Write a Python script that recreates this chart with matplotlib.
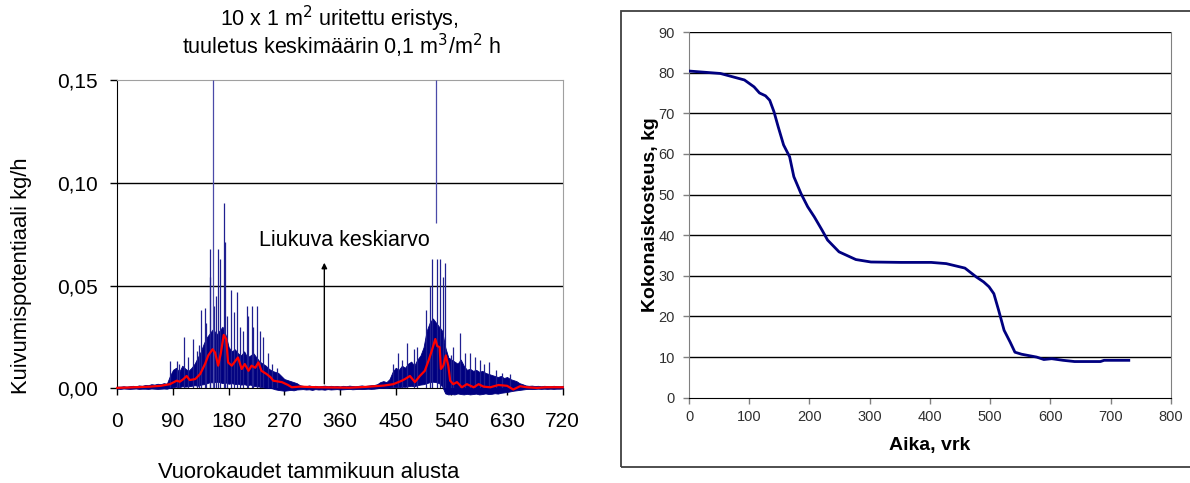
import matplotlib
matplotlib.use("Agg")
import matplotlib.pyplot as plt
import numpy as np
from matplotlib.patches import Rectangle

plt.rcParams["font.family"] = ["Liberation Sans", "DejaVu Sans"]

# ---- left chart: drying potential (kg/h) ----
BAND_DAYS = np.arange(0, 725, 5)
BAND_HI = [
    0.0008, 0.0008, 0.0010, 0.0008, 0.0010, 0.0012, 0.0010, 0.0014, 0.0012,
    0.0016, 0.0015, 0.0020, 0.0018, 0.0022, 0.0020, 0.0025, 0.0022,
    0.0060, 0.0090, 0.0100, 0.0080, 0.0110, 0.0095, 0.0085, 0.0100, 0.0120,
    0.0150, 0.0180, 0.0220, 0.0250, 0.0270, 0.0290, 0.0260, 0.0280, 0.0300,
    0.0260, 0.0200, 0.0180, 0.0190, 0.0170, 0.0160, 0.0180, 0.0150, 0.0160,
    0.0170, 0.0150, 0.0130, 0.0120, 0.0110, 0.0095, 0.0085, 0.0080, 0.0075,
    0.0060, 0.0045, 0.0040, 0.0035, 0.0030, 0.0025, 0.0015,
    0.0012, 0.0010, 0.0014, 0.0010, 0.0012, 0.0009, 0.0011, 0.0013, 0.0010,
    0.0012, 0.0010, 0.0011, 0.0009, 0.0012, 0.0010, 0.0013, 0.0011, 0.0010,
    0.0012, 0.0014, 0.0011, 0.0013, 0.0015, 0.0016,
    0.0020, 0.0030, 0.0035, 0.0030, 0.0045, 0.0080, 0.0100, 0.0090, 0.0110,
    0.0100, 0.0120, 0.0130, 0.0110, 0.0140, 0.0160, 0.0200, 0.0280, 0.0320,
    0.0340, 0.0320, 0.0300, 0.0280, 0.0200, 0.0150, 0.0140, 0.0130, 0.0120,
    0.0140, 0.0110, 0.0090, 0.0095, 0.0085, 0.0090, 0.0080, 0.0085, 0.0075,
    0.0070, 0.0065, 0.0060, 0.0055, 0.0060, 0.0050, 0.0055, 0.0045, 0.0040,
    0.0035, 0.0025, 0.0020,
    0.0014, 0.0012, 0.0013, 0.0011, 0.0012, 0.0010, 0.0012, 0.0011, 0.0010,
    0.0012, 0.0011, 0.0010, 0.0012,
]
BAND_LO = [
    -0.0002, -0.0003, -0.0001, -0.0002, -0.0003, -0.0002, -0.0001, -0.0003,
    -0.0002, -0.0002, -0.0003, -0.0001, -0.0002, -0.0003, -0.0002, -0.0001,
    -0.0002,
    0.0002, 0.0005, 0.0008, 0.0005, 0.0010, 0.0008, 0.0010, 0.0012, 0.0015,
    0.0012, 0.0018,
    0.0020, 0.0025, 0.0030, 0.0028, 0.0032, 0.0030, 0.0025, 0.0028, 0.0022,
    0.0025, 0.0020, 0.0022, 0.0018, 0.0020, 0.0015, 0.0018, 0.0012, 0.0010,
    0.0008, 0.0005, 0.0003, 0.0002, 0.0000,
    -0.0005, -0.0008, -0.0010, -0.0012, -0.0010, -0.0008, -0.0010, -0.0006,
    -0.0005,
    -0.0004, -0.0006, -0.0005, -0.0008, -0.0004, -0.0006, -0.0005, -0.0007,
    -0.0004, -0.0006, -0.0005, -0.0004, -0.0006, -0.0005, -0.0004, -0.0003,
    -0.0005, -0.0004, -0.0003, -0.0004, -0.0003, -0.0002, -0.0003, -0.0002,
    0.0000, 0.0002, 0.0003, 0.0002, 0.0004, 0.0005, 0.0006, 0.0005, 0.0008,
    0.0007, 0.0010, 0.0012, 0.0010, 0.0015, 0.0018, 0.0020, 0.0025, 0.0030,
    0.0032, 0.0030, 0.0025, 0.0010,
    -0.0025, -0.0030, -0.0028, -0.0030, -0.0025, -0.0028, -0.0030, -0.0027,
    -0.0030, -0.0028, -0.0026, -0.0030, -0.0028, -0.0025, -0.0028, -0.0027,
    -0.0024, -0.0026, -0.0022, -0.0020, -0.0018, -0.0015, -0.0012, -0.0010,
    -0.0008, -0.0006,
    -0.0004, -0.0003, -0.0004, -0.0003, -0.0002, -0.0003, -0.0002, -0.0003,
    -0.0002, -0.0003, -0.0002, -0.0002, -0.0001,
]

SPIKE_DAYS = [85, 97, 100, 108, 115, 123, 128, 132, 136, 142, 144, 149, 150,
              157, 160, 162, 166, 172, 174, 178, 183, 188, 194, 198, 203, 209,
              212, 217, 220, 225, 230, 236, 244, 250, 258,
              445, 454, 460, 468, 479, 484, 499, 506, 508, 516, 521, 527, 529,
              539, 543, 554, 562, 570, 578, 586, 593, 600, 612, 621, 634]
SPIKE_VALUES = [0.0134, 0.0134, 0.0120, 0.0250, 0.0150, 0.0240, 0.0180, 0.0210,
                0.0380, 0.0390, 0.0320, 0.0540, 0.0680, 0.0400, 0.0450, 0.0680,
                0.0630, 0.0900, 0.0710, 0.0350, 0.0480, 0.0370, 0.0470, 0.0300,
                0.0280, 0.0400, 0.0350, 0.0400, 0.0300, 0.0400, 0.0280, 0.0250,
                0.0170, 0.0120, 0.0100,
                0.0120, 0.0170, 0.0140, 0.0220, 0.0190, 0.0200, 0.0380, 0.0500,
                0.0630, 0.0630, 0.0630, 0.0540, 0.0610, 0.0160, 0.0200, 0.0270,
                0.0170, 0.0170, 0.0150, 0.0140, 0.0120, 0.0130, 0.0090, 0.0075,
                0.0070]

TALL_DAYS = [155, 515]
TALL_BASE = [0.0, 0.0806]

RED_DAYS = [0, 20, 53, 70, 85, 96, 101, 107, 112, 117, 126, 134, 142, 147,
            154, 158, 163, 167, 172, 176, 179, 185, 190, 195, 201, 206, 212,
            217, 223, 228, 233, 241, 248, 252, 266, 276, 282, 295, 322, 349,
            376, 403, 430, 446, 460, 465, 473, 481, 489, 497, 503, 508, 514,
            517, 521, 523, 527, 531, 535, 538, 543, 549, 557, 565, 576, 584,
            592, 603, 616, 630, 640, 651, 662, 678, 694, 720]
RED_VALUES = [0.0002, 0.0004, 0.0008, 0.0012, 0.0020, 0.0037, 0.0032, 0.0045,
              0.0060, 0.0040, 0.0045, 0.0070, 0.0120, 0.0160, 0.0190, 0.0174,
              0.0110, 0.0166, 0.0260, 0.0240, 0.0126, 0.0110, 0.0130, 0.0150,
              0.0094, 0.0118, 0.0085, 0.0110, 0.0100, 0.0126, 0.0085, 0.0070,
              0.0053, 0.0037, 0.0030, 0.0016, 0.0005, 0.0008, 0.0005, 0.0004,
              0.0003, 0.0007, 0.0013, 0.0020, 0.0037, 0.0045, 0.0060, 0.0030,
              0.0060, 0.0085, 0.0134, 0.0180, 0.0240, 0.0206, 0.0200, 0.0094,
              0.0110, 0.0160, 0.0110, 0.0037, 0.0020, 0.0030, 0.0005, 0.0020,
              0.0005, 0.0020, 0.0008, 0.0005, 0.0016, 0.0012, -0.0006, 0.0010,
              0.0005, 0.0002, 0.0005, 0.0005]

LEFT_XTICKS = [0, 90, 180, 270, 360, 450, 540, 630, 720]
LEFT_YTICKS = [0.00, 0.05, 0.10, 0.15]

# ---- right chart: total moisture (kg) ----
MOIST_DAYS = [0, 52, 92, 108, 117, 127, 134, 141, 148, 157, 167, 174, 186,
              197, 208, 221, 230, 249, 277, 302, 352, 402, 427, 458, 477, 489,
              498, 506, 514, 523, 533, 541, 552, 577, 589, 602, 621, 640, 683,
              689, 730]
MOIST_KG = [80.4, 79.8, 78.2, 76.5, 75.0, 74.3, 73.2, 70.4, 66.7, 62.2, 59.3,
            54.4, 50.2, 47.0, 44.5, 41.2, 38.8, 35.9, 34.0, 33.4, 33.3, 33.3,
            33.0, 31.9, 29.7, 28.5, 27.3, 25.6, 21.5, 16.6, 13.7, 11.2, 10.7,
            10.0, 9.4, 9.6, 9.2, 8.9, 8.9, 9.2, 9.2]

NAVY = "#000080"

fig = plt.figure(figsize=(11.9, 4.83), dpi=100)
fig.patch.set_facecolor("white")

# left panel
ax = fig.add_axes([0.0986, 0.1961, 0.3743, 0.6377])
ax.set_xlim(0, 720)
ax.set_ylim(0, 0.15)
ax.fill_between(BAND_DAYS, BAND_LO, BAND_HI, color=NAVY, linewidth=0.6,
                edgecolor=NAVY, clip_on=False, zorder=3)
ax.vlines(SPIKE_DAYS, 0, SPIKE_VALUES, color="#202090", linewidth=0.9, zorder=3)
ax.vlines(TALL_DAYS, TALL_BASE, 0.15, color="#4a4aa8", linewidth=0.9, zorder=3)
ax.plot(RED_DAYS, RED_VALUES, color="#ff0000", linewidth=1.6, clip_on=False, zorder=4)

for y in (0.05, 0.10):
    ax.axhline(y, color="black", linewidth=1.0, zorder=1)
ax.set_xticks(LEFT_XTICKS)
ax.set_yticks(LEFT_YTICKS)
ax.set_yticklabels([f"{v:.2f}".replace(".", ",") for v in LEFT_YTICKS])
ax.tick_params(axis="both", direction="out", length=5, width=1, labelsize=15)
ax.tick_params(axis="x", pad=12)
ax.tick_params(axis="y", pad=9)
ax.spines["left"].set_color("black")
ax.spines["bottom"].set_color("black")
ax.spines["top"].set_color("#a0a0a0")
ax.spines["right"].set_color("#a0a0a0")

ax.annotate("", xy=(334.6, 0.0625), xytext=(334.6, 0.0008),
            arrowprops=dict(arrowstyle="-|>", color="black", lw=1.0,
                            mutation_scale=8))
ax.text(367, 0.0722, "Liukuva keskiarvo", ha="center", va="center", fontsize=15.5)

fig.text(0.285, 0.961, "10 x 1 m$^2$ uritettu eristys,", ha="center",
         va="center", fontsize=15.5)
fig.text(0.287, 0.905, "tuuletus keskimäärin 0,1 m$^3$/m$^2$ h", ha="center",
         va="center", fontsize=15.5)
fig.text(0.018, 0.43, "Kuivumispotentiaali kg/h", rotation=90, ha="center",
         va="center", fontsize=15.8)
fig.text(0.259, 0.022, "Vuorokaudet tammikuun alusta", ha="center",
         va="center", fontsize=15.8)

# right panel frame
fig.patches.append(Rectangle((0.5218, 0.0331), 0.49, 0.944,
                             transform=fig.transFigure, fill=False,
                             edgecolor="#404040", linewidth=1.3))

ax2 = fig.add_axes([0.5790, 0.1766, 0.4050, 0.7571])
ax2.set_xlim(0, 800)
ax2.set_ylim(0, 90)
for y in range(10, 91, 10):
    ax2.axhline(y, color="black", linewidth=1.0, zorder=1)
ax2.plot(MOIST_DAYS, MOIST_KG, color=NAVY, linewidth=2.0, zorder=3)
ax2.set_xticks(range(0, 801, 100))
ax2.set_yticks(range(0, 91, 10))
ax2.tick_params(axis="both", direction="out", length=4, width=1,
                labelsize=10.5, colors="#808080", labelcolor="#303030")
ax2.tick_params(axis="x", pad=5)
ax2.tick_params(axis="y", pad=6)
ax2.spines["left"].set_color("#808080")
ax2.spines["bottom"].set_color("black")
ax2.spines["top"].set_visible(False)
ax2.spines["right"].set_color("#808080")
ax2.set_xlabel("Aika, vrk", fontsize=14, fontweight="bold", labelpad=9)
ax2.set_ylabel("Kokonaiskosteus, kg", fontsize=14, fontweight="bold", labelpad=0)

fig.savefig("out.png", dpi=100, facecolor="white")
